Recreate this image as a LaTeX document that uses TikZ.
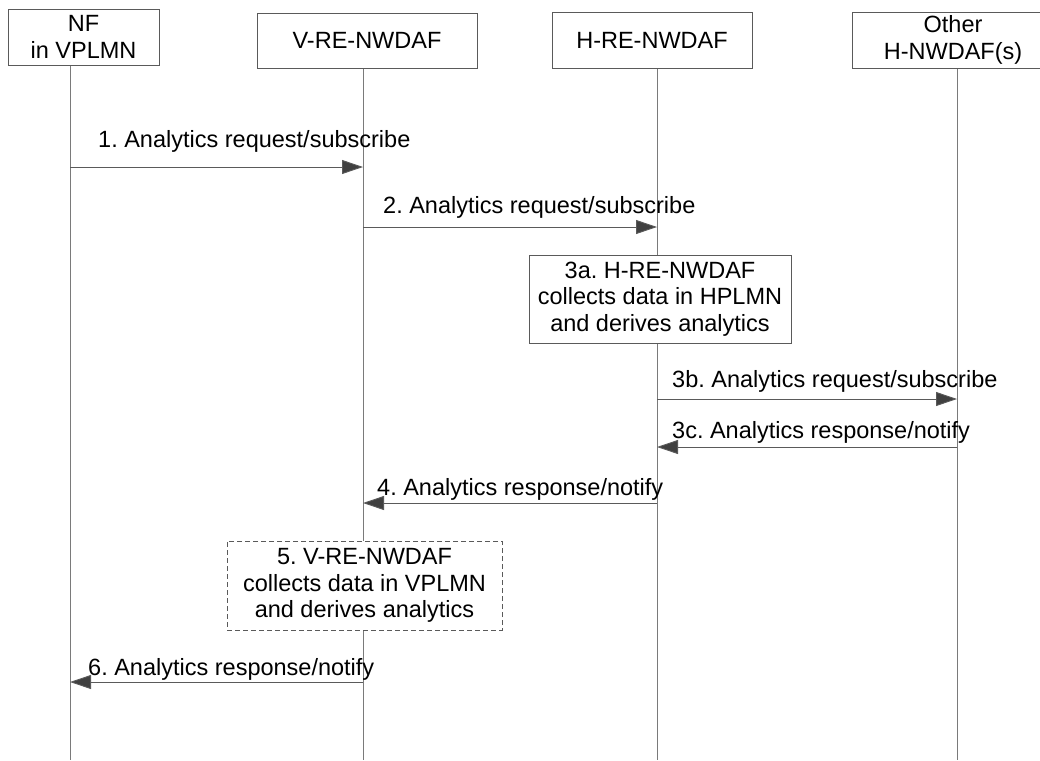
\documentclass[tikz,border=0pt]{standalone}
\usepackage{fontspec}
\setmainfont{Liberation Sans}
\usetikzlibrary{arrows.meta}
\frenchspacing

\definecolor{lineclr}{HTML}{5A5A5A}
\definecolor{headclr}{HTML}{404040}
\definecolor{lifeclr}{HTML}{7A7A7A}

\tikzset{
  hdr/.style={draw=lineclr, line width=0.9pt, fill=white, align=center, inner sep=0pt},
  stepbox/.style={hdr},
  life/.style={draw=lifeclr, line width=0.9pt},
  msg/.style={draw=lineclr, line width=0.9pt, -{Triangle[length=21pt,width=14pt,fill=headclr]}},
  lbl/.style={inner sep=0pt, anchor=base west}
}

\begin{document}
\begin{tikzpicture}[x=1pt,y=-1pt,font=\fontsize{23.5}{26.5}\selectfont]

\useasboundingbox (0,0) rectangle (1040,760);

% lifelines
\coordinate (nfT) at (70,65);   \coordinate (nfB) at (70,760);
\coordinate (vT)  at (363,68);  \coordinate (vB)  at (363,760);
\coordinate (hT)  at (657,68);  \coordinate (hB)  at (657,760);
\coordinate (oT)  at (957,68);  \coordinate (oB)  at (957,760);

\draw[life] (nfT)--(nfB);
\draw[life] (vT)--(vB);
\draw[life] (hT)--(hB);
\draw[life] (oT)--(oB);

% header boxes
\node[hdr, minimum width=151pt, minimum height=56pt] (nf) at (83.5,37) {NF\\in VPLMN};
\node[hdr, minimum width=220pt, minimum height=55pt] (vre) at (367,40.5) {V-RE-NWDAF};
\node[hdr, minimum width=200pt, minimum height=56pt] (hre) at (652,40) {H-RE-NWDAF};
\node[hdr, minimum width=202pt, minimum height=56pt] (oth) at (953,40) {Other\\H-NWDAF(s)};

% local steps
\node[stepbox, minimum width=262pt, minimum height=88pt] (s3a) at (660,299)
  {3a. H-RE-NWDAF\\collects data in HPLMN\\and derives analytics};
\node[stepbox, dash pattern=on 5pt off 3pt, minimum width=275pt, minimum height=89pt] (s5) at (364.5,585.5)
  {5. V-RE-NWDAF\\collects data in VPLMN\\and derives analytics};

% messages
\foreach \from/\to/\y in {nfT/vT/167, vT/hT/227, hT/oT/399, oT/hT/447, hT/vT/503, vT/nfT/682}
  \draw[msg] (\from |- 0,\y) -- (\to |- 0,\y);

\node[lbl] (m1)  at (98,147)  {1. Analytics request/subscribe};
\node[lbl] (m2)  at (383,213) {2. Analytics request/subscribe};
\node[lbl] (m3b) at (672,387) {3b. Analytics request/subscribe};
\node[lbl] (m3c) at (672,438) {3c. Analytics response/notify};
\node[lbl] (m4)  at (377,495) {4. Analytics response/notify};
\node[lbl] (m6)  at (88,675)  {6. Analytics response/notify};

\end{tikzpicture}
\end{document}
